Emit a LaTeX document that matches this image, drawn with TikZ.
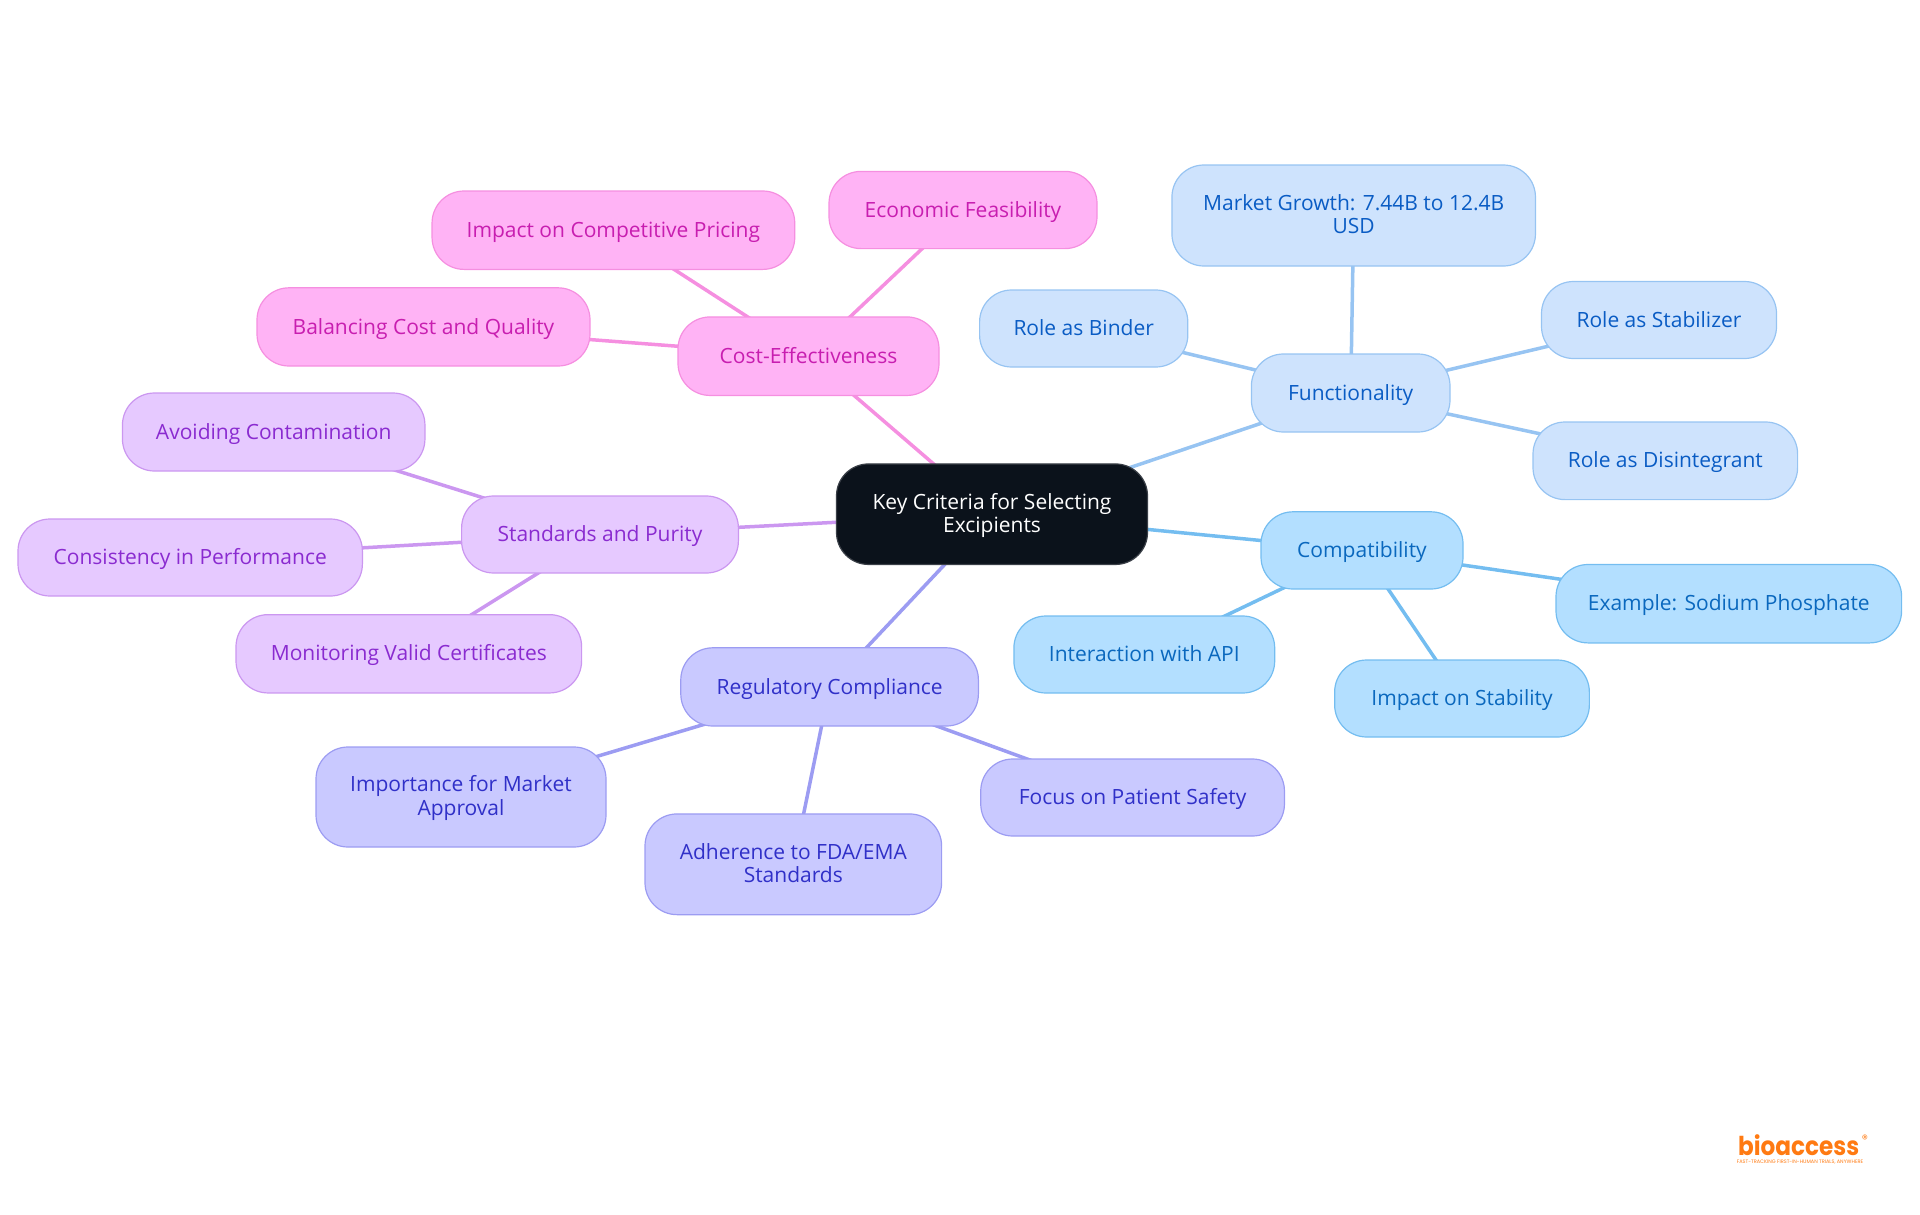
\documentclass[tikz,border=0pt]{standalone}
\usepackage{fontspec}
\setmainfont{Open Sans}
\newfontfamily\logofont{Poppins}
\usetikzlibrary{backgrounds}
\definecolor{rootfill}{HTML}{0B121B}
\definecolor{rootline}{HTML}{3A3F47}
\definecolor{funfill}{HTML}{CEE3FD}
\definecolor{funline}{HTML}{97C4F2}
\definecolor{funtext}{HTML}{0A5CC4}
\definecolor{comfill}{HTML}{B3DFFF}
\definecolor{comline}{HTML}{74BDF0}
\definecolor{comtext}{HTML}{0A68BE}
\definecolor{regfill}{HTML}{C9C9FF}
\definecolor{regline}{HTML}{9C9CF2}
\definecolor{regtext}{HTML}{3030C8}
\definecolor{stafill}{HTML}{E6C9FF}
\definecolor{staline}{HTML}{CB97F0}
\definecolor{statext}{HTML}{8A2BD0}
\definecolor{cosfill}{HTML}{FFB3F5}
\definecolor{cosline}{HTML}{F58FE0}
\definecolor{costext}{HTML}{C81EB0}
\definecolor{logoor}{HTML}{FF7A12}
\tikzset{
  x=1pt,y=-1pt,
  box/.style={rounded corners=32pt,line width=1.2pt,inner sep=0pt,align=center,font=\fontsize{21}{23.3}\selectfont},
  oneline/.style={text height=22pt,text depth=7.7pt},
  twolines/.style={text height=43pt,text depth=6.8pt},
  rootbox/.style={box,fill=rootfill,draw=rootline,text=white},
  funbox/.style={box,fill=funfill,draw=funline,text=funtext},
  combox/.style={box,fill=comfill,draw=comline,text=comtext},
  regbox/.style={box,fill=regfill,draw=regline,text=regtext},
  stabox/.style={box,fill=stafill,draw=staline,text=statext},
  cosbox/.style={box,fill=cosfill,draw=cosline,text=costext},
  link/.style={line width=3.5pt},
}
\begin{document}
\begin{tikzpicture}
\useasboundingbox (0,0) rectangle (1920,1215);
\node[rootbox,twolines,minimum width=311pt,minimum height=100.5pt] (root) at (992,514.2) {Key Criteria for Selecting\\Excipients};
\node[funbox,oneline,minimum width=198.6pt,minimum height=78pt] (fun) at (1350.7,393) {Functionality};
\node[funbox,twolines,minimum width=363.5pt,minimum height=101pt] (fun1) at (1353.7,215.5) {Market Growth: 7.44B to 12.4B\\USD};
\node[funbox,oneline,minimum width=235pt,minimum height=77pt] (fun2) at (1659,320) {Role as Stabilizer};
\node[funbox,oneline,minimum width=264.6pt,minimum height=77.6pt] (fun3) at (1665.3,460.8) {Role as Disintegrant};
\node[funbox,oneline,minimum width=208.2pt,minimum height=77pt] (fun4) at (1083.7,328.5) {Role as Binder};
\node[combox,oneline,minimum width=202pt,minimum height=77.2pt] (com) at (1362,550.4) {Compatibility};
\node[combox,oneline,minimum width=345.6pt,minimum height=78.4pt] (com1) at (1728.8,603.7) {Example: Sodium Phosphate};
\node[combox,oneline,minimum width=254.7pt,minimum height=77pt] (com2) at (1462,698.5) {Impact on Stability};
\node[combox,oneline,minimum width=260.8pt,minimum height=77pt] (com3) at (1144.3,654.5) {Interaction with API};
\node[regbox,oneline,minimum width=297.6pt,minimum height=78.2pt] (reg) at (829.6,686.9) {Regulatory Compliance};
\node[regbox,oneline,minimum width=303.7pt,minimum height=77pt] (reg1) at (1132.6,797.5) {Focus on Patient Safety};
\node[regbox,twolines,minimum width=296.6pt,minimum height=100.7pt] (reg2) at (793.3,864.3) {Adherence to FDA/EMA\\Standards};
\node[regbox,twolines,minimum width=290pt,minimum height=100pt] (reg3) at (461,797) {Importance for Market\\Approval};
\node[stabox,oneline,minimum width=276.8pt,minimum height=77pt] (sta) at (600,534.5) {Standards and Purity};
\node[stabox,oneline,minimum width=302.5pt,minimum height=78pt] (sta1) at (273.7,432) {Avoiding Contamination};
\node[stabox,oneline,minimum width=344.4pt,minimum height=77pt] (sta2) at (190.2,557.5) {Consistency in Performance};
\node[stabox,oneline,minimum width=345.6pt,minimum height=78.3pt] (sta3) at (408.8,653.8) {Monitoring Valid Certificates};
\node[cosbox,oneline,minimum width=261pt,minimum height=78.5pt] (cos) at (808.5,356.2) {Cost-Effectiveness};
\node[cosbox,oneline,minimum width=268pt,minimum height=77.2pt] (cos1) at (963,210) {Economic Feasibility};
\node[cosbox,oneline,minimum width=362.7pt,minimum height=78.4pt] (cos2) at (613.4,230.2) {Impact on Competitive Pricing};
\node[cosbox,oneline,minimum width=333pt,minimum height=78.2pt] (cos3) at (423.5,326.9) {Balancing Cost and Quality};
\begin{scope}[on background layer]
\draw[link,funline] (root.center) -- (fun.center);
\draw[link,funline] (fun.center) -- (fun1.center);
\draw[link,funline] (fun.center) -- (fun2.center);
\draw[link,funline] (fun.center) -- (fun3.center);
\draw[link,funline] (fun.center) -- (fun4.center);
\draw[link,comline] (root.center) -- (com.center);
\draw[link,comline] (com.center) -- (com1.center);
\draw[link,comline] (com.center) -- (com2.center);
\draw[link,comline] (com.center) -- (com3.center);
\draw[link,regline] (root.center) -- (reg.center);
\draw[link,regline] (reg.center) -- (reg1.center);
\draw[link,regline] (reg.center) -- (reg2.center);
\draw[link,regline] (reg.center) -- (reg3.center);
\draw[link,staline] (root.center) -- (sta.center);
\draw[link,staline] (sta.center) -- (sta1.center);
\draw[link,staline] (sta.center) -- (sta2.center);
\draw[link,staline] (sta.center) -- (sta3.center);
\draw[link,cosline] (root.center) -- (cos.center);
\draw[link,cosline] (cos.center) -- (cos1.center);
\draw[link,cosline] (cos.center) -- (cos2.center);
\draw[link,cosline] (cos.center) -- (cos3.center);
\end{scope}
\node[inner sep=0pt,anchor=base west,xscale=.89,text=logoor,font=\logofont\bfseries\fontsize{26}{26}\selectfont] (logo) at (1738,1155) {bioaccess};
\node[inner sep=0pt,text=logoor,font=\logofont\fontsize{5}{5}\selectfont] (tag) at (1800,1162.5) {FAST-TRACKING FIRST-IN-HUMAN TRIALS, ANYWHERE};
\node[inner sep=0pt,text=logoor,font=\logofont\fontsize{12}{12}\selectfont] (regmark) at (1865,1139.5) {®};
\end{tikzpicture}
\end{document}
